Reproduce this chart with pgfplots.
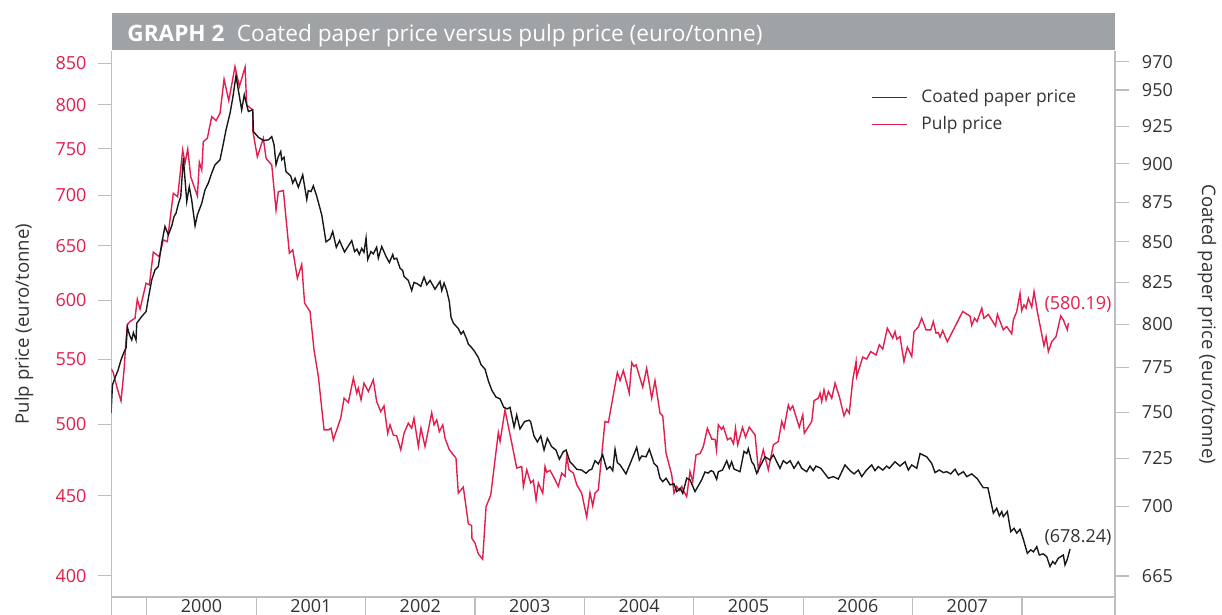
\documentclass[border=0pt]{standalone}
\usepackage{fontspec}
\setmainfont{Open Sans}
\usepackage{pgfplots}
\pgfplotsset{compat=1.18}
\definecolor{pulpred}{RGB}{226,30,78}
\definecolor{framegray}{RGB}{188,190,192}
\definecolor{titlegray}{RGB}{160,163,166}
\definecolor{textgray}{RGB}{51,51,51}
\definecolor{linegray}{RGB}{24,24,24}
\newcommand{\tickfont}{\fontsize{9}{10}\selectfont}
\begin{document}
\begin{tikzpicture}
% x band axis
\begin{axis}[name=main, scale only axis, width=501.75pt, height=272.75pt,
  xmin=1999.677, xmax=2008.850, ymin=0, ymax=1,
  axis y line=none, axis x line*=bottom,
  x axis line style={framegray, line width=0.6pt, -},
  xtick={2000,2001,2002,2003,2004,2005,2006,2007,2008},
  x tick label as interval,
  xticklabels={\mbox{2000},\mbox{2001},\mbox{2002},\mbox{2003},\mbox{2004},\mbox{2005},\mbox{2006},\mbox{2007}},
  tick align=outside, major tick length=12pt,
  xtick style={framegray, line width=0.6pt},
  xticklabel style={font=\tickfont, text=textgray, anchor=north, inner sep=0pt, yshift=11pt},
  xminorticks=false]
\end{axis}
% pulp axis
\begin{axis}[scale only axis, width=501.75pt, height=272.75pt,
  xmin=1999.677, xmax=2008.850, ymode=log, ymin=387.8, ymax=865.1,
  axis x line=none, axis y line*=left,
  y axis line style={framegray, line width=0.6pt, -},
  ytick={400,450,500,550,600,650,700,750,800,850},
  yticklabels={\mbox{400},\mbox{450},\mbox{500},\mbox{550},\mbox{600},\mbox{650},\mbox{700},\mbox{750},\mbox{800},\mbox{850}},
  yminorticks=false, tick align=outside, major tick length=7pt,
  ytick style={framegray, line width=0.6pt},
  yticklabel style={font=\tickfont, text=pulpred, anchor=east, xshift=-2pt},
  clip mode=individual]
\addplot[draw=pulpred, line width=0.7pt] coordinates {
(1999.673,542.4) (1999.691,540.0) (1999.728,527.4) (1999.764,517.4) (1999.792,541.6)
(1999.810,566.0) (1999.822,578.7) (1999.846,581.5) (1999.892,584.3) (1999.913,600.9)
(1999.938,592.2) (1999.993,615.2) (2000.023,613.7) (2000.059,643.9) (2000.114,639.7)
(2000.151,655.7) (2000.187,654.0) (2000.242,702.2) (2000.282,698.7) (2000.328,748.5)
(2000.349,734.0) (2000.374,749.6) (2000.401,719.6) (2000.462,699.4) (2000.480,735.0)
(2000.502,726.7) (2000.516,757.7) (2000.553,761.5) (2000.593,786.0) (2000.633,781.5)
(2000.669,790.0) (2000.706,830.4) (2000.749,804.8) (2000.806,846.0) (2000.846,821.5)
(2000.898,845.3) (2000.913,799.7) (2000.968,793.9) (2000.970,768.9) (2001.010,741.0)
(2001.065,761.5) (2001.090,739.3) (2001.142,732.1) (2001.181,685.3) (2001.202,703.9)
(2001.248,705.0) (2001.303,643.0) (2001.334,646.1) (2001.376,619.7) (2001.416,632.4)
(2001.442,597.4) (2001.492,590.1) (2001.528,557.8) (2001.568,536.3) (2001.620,495.8)
(2001.659,495.8) (2001.684,497.0) (2001.705,488.6) (2001.772,504.4) (2001.803,519.5)
(2001.842,516.2) (2001.888,535.0) (2001.919,523.3) (2001.933,527.2) (2001.958,518.2)
(2001.985,531.1) (2002.025,524.6) (2002.070,533.7) (2002.101,516.9) (2002.138,509.3)
(2002.168,513.6) (2002.202,493.3) (2002.223,499.5) (2002.253,492.1) (2002.284,491.4)
(2002.321,481.5) (2002.351,493.3) (2002.390,500.7) (2002.421,497.0) (2002.442,504.4)
(2002.482,483.8) (2002.506,497.0) (2002.543,483.8) (2002.604,508.5) (2002.625,499.5)
(2002.650,503.2) (2002.674,494.5) (2002.705,499.5) (2002.726,489.8) (2002.765,481.5)
(2002.826,475.6) (2002.847,451.7) (2002.893,455.8) (2002.939,431.8) (2002.970,430.7)
(2002.971,422.8) (2003.000,419.7) (2003.030,413.1) (2003.070,409.9) (2003.101,442.9)
(2003.144,450.6) (2003.213,493.8) (2003.229,487.4) (2003.274,510.6) (2003.336,486.2)
(2003.381,468.7) (2003.427,469.8) (2003.442,456.2) (2003.473,467.5) (2003.509,458.5)
(2003.533,460.3) (2003.558,447.3) (2003.579,458.5) (2003.619,451.7) (2003.640,469.8)
(2003.655,465.9) (2003.686,467.1) (2003.716,463.0) (2003.761,456.2) (2003.793,465.3)
(2003.823,463.0) (2003.838,477.2) (2003.859,467.5) (2003.899,465.3) (2003.930,457.3)
(2003.975,451.7) (2004.021,436.1) (2004.051,452.1) (2004.076,443.4) (2004.097,451.7)
(2004.127,453.9) (2004.188,502.0) (2004.219,501.2) (2004.301,539.4) (2004.326,533.1)
(2004.356,541.0) (2004.410,523.3) (2004.432,547.4) (2004.453,544.3) (2004.472,545.6)
(2004.533,527.9) (2004.569,542.9) (2004.615,519.4) (2004.645,533.1) (2004.691,508.1)
(2004.716,506.1) (2004.746,479.1) (2004.798,464.1) (2004.819,451.7) (2004.844,456.2)
(2004.868,453.5) (2004.890,456.2) (2004.904,453.5) (2004.935,449.4) (2004.965,466.3)
(2004.990,459.6) (2005.020,477.9) (2005.057,478.8) (2005.087,483.8) (2005.124,497.0)
(2005.164,489.1) (2005.194,489.0) (2005.207,481.5) (2005.224,499.5) (2005.255,496.2)
(2005.270,498.2) (2005.308,488.6) (2005.336,490.0) (2005.363,485.7) (2005.381,497.0)
(2005.401,485.0) (2005.445,497.6) (2005.473,490.5) (2005.507,497.8) (2005.560,492.1)
(2005.590,467.5) (2005.635,481.5) (2005.681,467.5) (2005.727,485.0) (2005.772,487.4)
(2005.804,502.0) (2005.825,497.0) (2005.864,514.3) (2005.880,510.6) (2005.904,513.6)
(2005.964,497.8) (2005.996,506.9) (2006.010,493.3) (2006.078,502.0) (2006.099,517.6)
(2006.138,519.4) (2006.154,523.3) (2006.169,516.9) (2006.190,525.9) (2006.209,518.2)
(2006.230,524.6) (2006.261,519.4) (2006.291,531.1) (2006.330,520.7) (2006.373,506.1)
(2006.398,511.1) (2006.421,508.1) (2006.453,533.7) (2006.483,548.2) (2006.489,536.3)
(2006.544,551.8) (2006.580,550.2) (2006.617,556.3) (2006.666,553.6) (2006.696,561.9)
(2006.727,558.3) (2006.769,575.8) (2006.818,567.4) (2006.839,573.0) (2006.855,566.6)
(2006.885,568.7) (2006.921,548.2) (2006.952,560.0) (2006.992,552.3) (2007.013,573.0)
(2007.052,576.7) (2007.083,584.3) (2007.123,574.4) (2007.166,574.4) (2007.189,581.4)
(2007.214,571.6) (2007.235,572.1) (2007.251,568.2) (2007.275,573.8) (2007.317,564.5)
(2007.388,577.2) (2007.458,590.2) (2007.525,586.0) (2007.540,578.2) (2007.566,584.3)
(2007.589,581.4) (2007.632,593.0) (2007.651,584.3) (2007.692,587.6) (2007.758,577.6)
(2007.775,587.6) (2007.829,574.4) (2007.860,577.2) (2007.906,571.0) (2007.921,582.9)
(2007.952,590.1) (2007.982,606.2) (2007.997,590.9) (2008.018,595.9) (2008.037,593.0)
(2008.058,601.8) (2008.089,593.9) (2008.110,607.7) (2008.140,590.1) (2008.201,561.1)
(2008.220,568.7) (2008.241,556.3) (2008.272,564.5) (2008.311,568.7) (2008.354,586.3)
(2008.378,582.9) (2008.414,574.4) (2008.424,580.19)
};
\node[text=pulpred, font=\tickfont] at (axis cs:2008.512,595.9) {(580.19)};
\end{axis}
% coated axis
\begin{axis}[scale only axis, width=501.75pt, height=272.75pt,
  xmin=1999.677, xmax=2008.850, ymode=log, ymin=654.8, ymax=977.4,
  axis x line=none, axis y line*=right,
  y axis line style={framegray, line width=0.6pt, -},
  ytick={665,700,725,750,775,800,825,850,875,900,925,950,970},
  yticklabels={\mbox{665},\mbox{700},\mbox{725},\mbox{750},\mbox{775},\mbox{800},\mbox{825},\mbox{850},\mbox{875},\mbox{900},\mbox{925},\mbox{950},\mbox{970}},
  yminorticks=false, tick align=outside, major tick length=7pt,
  ytick style={framegray, line width=0.6pt},
  yticklabel style={font=\tickfont, text=textgray, anchor=west, xshift=3pt},
  clip mode=individual]
\addplot[draw=linegray, line width=0.7pt] coordinates {
(1999.673,749.6) (1999.686,765.2) (1999.709,769.1) (1999.737,773.6) (1999.764,779.3)
(1999.792,783.9) (1999.810,786.2) (1999.822,798.4) (1999.842,793.7) (1999.862,790.8)
(1999.877,795.1) (1999.901,790.8) (1999.908,800.6) (1999.953,804.5) (1999.993,807.4)
(2000.014,815.4) (2000.045,826.5) (2000.075,832.6) (2000.105,834.6) (2000.136,849.0)
(2000.166,859.5) (2000.197,854.2) (2000.228,859.9) (2000.249,865.8) (2000.267,867.9)
(2000.288,873.9) (2000.310,878.6) (2000.334,903.7) (2000.365,875.4) (2000.388,885.0)
(2000.410,876.4) (2000.441,859.9) (2000.462,866.8) (2000.502,874.3) (2000.532,882.9)
(2000.562,887.3) (2000.593,893.8) (2000.623,899.3) (2000.669,902.6) (2000.694,911.4)
(2000.724,922.7) (2000.761,934.1) (2000.785,944.4) (2000.815,960.0) (2000.836,950.2)
(2000.867,936.3) (2000.891,946.7) (2000.928,935.2) (2000.968,936.3) (2000.974,921.5)
(2001.019,917.7) (2001.065,915.5) (2001.111,915.9) (2001.142,918.1) (2001.163,912.6)
(2001.181,899.3) (2001.202,904.8) (2001.224,908.1) (2001.233,902.6) (2001.254,904.3)
(2001.272,894.8) (2001.315,892.0) (2001.334,887.3) (2001.355,890.5) (2001.385,884.6)
(2001.425,892.7) (2001.462,876.7) (2001.476,882.4) (2001.501,881.8) (2001.522,885.5)
(2001.551,879.3) (2001.599,866.8) (2001.638,849.8) (2001.675,851.7) (2001.699,856.3)
(2001.732,846.4) (2001.762,850.6) (2001.807,843.5) (2001.873,850.6) (2001.899,843.8)
(2001.921,845.3) (2001.942,842.0) (2001.964,845.7) (2001.985,843.3) (2002.004,852.2)
(2002.019,838.9) (2002.049,843.8) (2002.070,842.4) (2002.101,846.5) (2002.116,839.7)
(2002.147,846.9) (2002.187,840.7) (2002.217,837.0) (2002.248,842.0) (2002.260,839.1)
(2002.284,839.7) (2002.314,833.6) (2002.339,832.1) (2002.351,828.5) (2002.390,826.1)
(2002.421,820.0) (2002.442,824.9) (2002.473,824.1) (2002.504,822.5) (2002.534,828.1)
(2002.559,823.5) (2002.589,826.1) (2002.634,820.8) (2002.680,825.5) (2002.696,820.0)
(2002.717,824.5) (2002.741,820.0) (2002.765,813.4) (2002.781,804.0) (2002.802,800.6)
(2002.847,797.5) (2002.872,794.3) (2002.893,796.0) (2002.922,791.7) (2002.939,788.4)
(2002.961,787.0) (2002.991,784.7) (2003.030,780.7) (2003.055,776.6) (2003.091,774.1)
(2003.122,767.4) (2003.155,762.1) (2003.192,758.4) (2003.229,757.3) (2003.263,752.6)
(2003.295,751.8) (2003.320,752.6) (2003.357,741.9) (2003.381,748.4) (2003.411,740.8)
(2003.453,744.8) (2003.494,745.6) (2003.508,744.8) (2003.539,737.0) (2003.570,733.8)
(2003.601,737.0) (2003.631,729.4) (2003.661,735.7) (2003.701,731.2) (2003.740,729.4)
(2003.771,724.5) (2003.807,728.5) (2003.832,729.4) (2003.868,723.2) (2003.905,720.9)
(2003.930,719.2) (2003.975,718.8) (2004.015,717.1) (2004.045,718.8) (2004.067,719.2)
(2004.097,723.7) (2004.127,722.0) (2004.167,726.8) (2004.204,719.2) (2004.234,720.6)
(2004.259,718.5) (2004.280,729.8) (2004.301,722.7) (2004.326,721.5) (2004.380,716.7)
(2004.417,722.0) (2004.478,730.8) (2004.502,724.1) (2004.524,726.2) (2004.563,725.8)
(2004.593,729.8) (2004.636,722.3) (2004.666,720.6) (2004.691,714.5) (2004.716,712.7)
(2004.746,714.5) (2004.783,711.0) (2004.819,711.5) (2004.844,707.5) (2004.874,709.2)
(2004.899,706.6) (2004.935,714.5) (2004.965,713.6) (2005.011,707.5) (2005.072,713.6)
(2005.102,717.8) (2005.130,717.2) (2005.157,718.5) (2005.178,717.9) (2005.209,713.9)
(2005.224,717.9) (2005.262,718.8) (2005.301,723.7) (2005.324,719.8) (2005.346,723.2)
(2005.368,719.3) (2005.422,717.9) (2005.459,728.7) (2005.484,727.6) (2005.498,730.1)
(2005.529,723.2) (2005.550,721.5) (2005.575,717.1) (2005.605,720.6) (2005.651,725.8)
(2005.697,724.1) (2005.727,726.8) (2005.788,719.7) (2005.818,723.7) (2005.849,722.3)
(2005.880,723.7) (2005.916,719.7) (2005.955,723.2) (2005.986,719.7) (2006.032,717.9)
(2006.062,720.9) (2006.092,718.5) (2006.117,720.9) (2006.160,719.7) (2006.230,714.5)
(2006.275,715.3) (2006.321,714.0) (2006.382,721.5) (2006.428,718.5) (2006.465,716.7)
(2006.504,718.8) (2006.535,715.3) (2006.574,718.5) (2006.626,721.5) (2006.656,718.5)
(2006.686,720.6) (2006.727,718.8) (2006.763,720.9) (2006.787,719.7) (2006.839,723.2)
(2006.885,720.9) (2006.931,723.2) (2006.961,718.8) (2006.992,721.5) (2007.038,719.7)
(2007.068,727.6) (2007.129,725.8) (2007.175,722.3) (2007.205,717.4) (2007.244,718.8)
(2007.281,717.4) (2007.312,717.9) (2007.348,716.7) (2007.388,719.2) (2007.418,716.2)
(2007.464,717.9) (2007.495,715.3) (2007.540,716.7) (2007.591,714.2) (2007.646,709.5)
(2007.688,709.5) (2007.738,696.4) (2007.769,698.9) (2007.793,695.0) (2007.815,697.2)
(2007.829,694.6) (2007.866,697.2) (2007.897,687.0) (2007.927,688.7) (2007.952,686.2)
(2007.982,688.2) (2008.007,684.1) (2008.049,676.1) (2008.080,677.8) (2008.104,676.9)
(2008.135,679.4) (2008.158,675.3) (2008.195,675.8) (2008.226,674.5) (2008.256,669.6)
(2008.281,672.1) (2008.302,670.9) (2008.332,673.7) (2008.378,675.3) (2008.393,670.4)
(2008.414,673.2) (2008.439,678.24)
};
\node[text=textgray, font=\tickfont] at (axis cs:2008.512,684.3) {(678.24)};
\end{axis}
% legend
\draw[draw=textgray, line width=0.7pt] ([xshift=380.4pt,yshift=-23.1pt]main.north west) -- ([xshift=397.6pt,yshift=-23.1pt]main.north west);
\draw[draw=pulpred, line width=0.7pt] ([xshift=380.4pt,yshift=-36.4pt]main.north west) -- ([xshift=397.6pt,yshift=-36.4pt]main.north west);
\node[anchor=base west, inner sep=0pt, text=textgray, font=\fontsize{8.7}{10}\selectfont] at ([xshift=404.75pt,yshift=-25.6pt]main.north west) {Coated paper price};
\node[anchor=base west, inner sep=0pt, text=textgray, font=\fontsize{8.7}{10}\selectfont] at ([xshift=404.75pt,yshift=-39.1pt]main.north west) {Pulp price};
% title bar
\fill[titlegray] ([yshift=0.75pt]main.north west) rectangle ([yshift=19.1pt]main.north east);
\node[anchor=base west, inner sep=0pt, text=white, font=\fontsize{11.3}{13}\selectfont]
  at ([xshift=7.75pt,yshift=4.9pt]main.north west)
  {\textbf{GRAPH 2}\hspace{0.55em}Coated paper price versus pulp price (euro/tonne)};
% band side lines
\draw[framegray, line width=0.6pt] (main.south west) -- ++(0,-12pt);
\draw[framegray, line width=0.6pt] (main.south east) -- ++(0,-12pt);
% axis labels
\node[rotate=90, text=textgray, font=\fontsize{9.3}{11}\selectfont] at ([xshift=-43.75pt]main.west) {Pulp price (euro/tonne)};
\node[rotate=-90, text=textgray, font=\fontsize{9.3}{11}\selectfont] at ([xshift=46pt]main.east) {Coated paper price (euro/tonne)};
\pgfresetboundingbox
\useasboundingbox ([xshift=-55.75pt,yshift=-9pt]main.south west) rectangle ([xshift=555.25pt,yshift=298.5pt]main.south west);
\end{tikzpicture}
\end{document}
